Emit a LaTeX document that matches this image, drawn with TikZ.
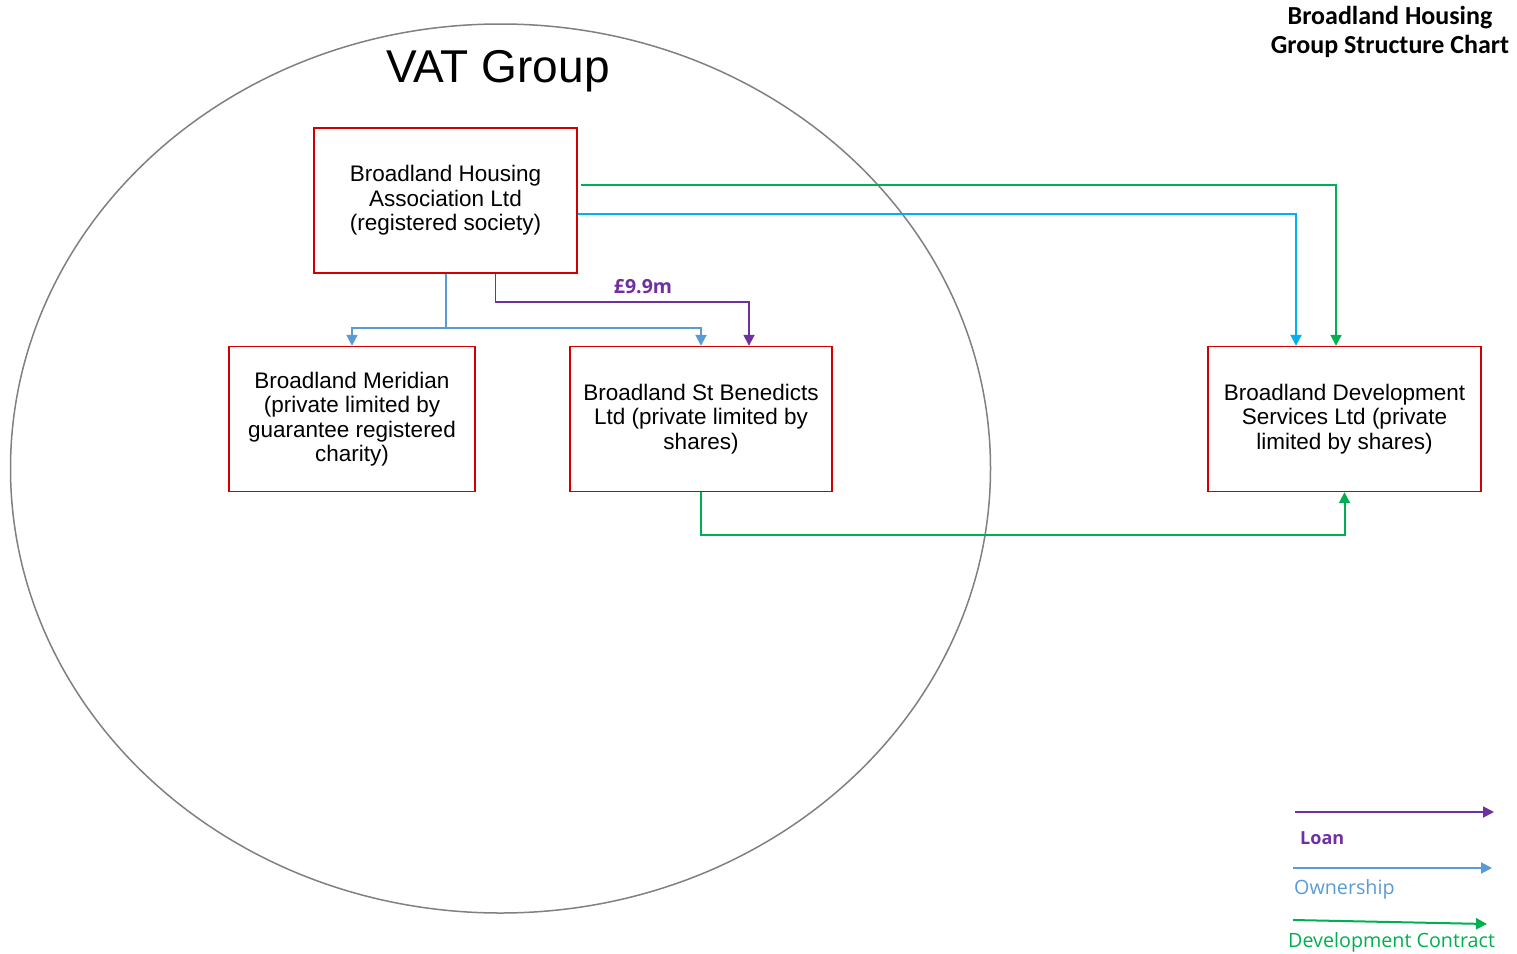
\documentclass[tikz,border=0pt]{standalone}
\usepackage{fontspec}
\setmainfont{Liberation Sans}
\newfontfamily\titlefont{Carlito}
\newfontfamily\keyfont{Open Sans}
\usetikzlibrary{arrows.meta}
\definecolor{boxred}{HTML}{D00000}
\definecolor{loanpurple}{HTML}{7030A0}
\definecolor{ownblue}{HTML}{5B9BD5}
\definecolor{devgreen}{HTML}{00B050}
\definecolor{devcyan}{HTML}{00B0F0}
\begin{document}
\begin{tikzpicture}[x=1pt,y=-1pt,
	entity/.style={draw=boxred, line width=1.4pt, minimum height=145pt, align=center,
		font=\fontsize{22.5}{24.5}\selectfont},
	tip/.style={-{Triangle[width=11pt,length=11pt]}},
	own/.style={tip, draw=ownblue, line width=2pt},
	loan/.style={tip, draw=loanpurple, line width=1.8pt},
	devc/.style={tip, draw=devgreen, line width=2pt},
	devcyan/.style={tip, draw=devcyan, line width=2pt},
	keytext/.style={anchor=west, inner sep=0pt, font=\keyfont\fontsize{19.7}{22}\selectfont}]
	\useasboundingbox (0,0) rectangle (1517,953);
	
	\draw [line width=1.5pt, color=gray] (500.5,468.5) ellipse [x radius=490pt, y radius=444.5pt];
	\node (vat) at (498,71) {\fontsize{46}{50}\selectfont VAT Group};
	\node [align=center, font=\titlefont\bfseries\fontsize{26}{28.5}\selectfont] (title) at (1390,32) {Broadland Housing\\Group Structure Chart};
	
	\node [entity, minimum width=263pt] (bha) at (445.5,200.5) {Broadland Housing\\Association Ltd\\(registered society)};
	\node [entity, minimum width=246pt] (mer) at (352,419) {Broadland Meridian\\(private limited by\\guarantee registered\\charity)};
	\node [entity, minimum width=262pt] (stb) at (701,419) {Broadland St Benedicts\\Ltd (private limited by\\shares)};
	\node [entity, minimum width=273pt] (bds) at (1344.5,419) {Broadland Development\\Services Ltd (private\\limited by shares)};
	
	\draw [own] (bha.south) -- ++(0,54) coordinate (split) -| (mer.north);
	\draw [own] (split) -| (stb.north);
	\draw [loan] ([xshift=50pt]bha.south) -- ++(0,28) -| ([xshift=48pt]stb.north);
	\node [text=loanpurple, font=\keyfont\bfseries\fontsize{19.5}{22}\selectfont] (amount) at (643,287) {£9.9m};
	\draw [devc] ([xshift=3pt,yshift=15.5pt]bha.east) -| ([xshift=-8.5pt]bds.north);
	\draw [devcyan] ([yshift=-13.5pt]bha.east) -| ([xshift=-48.5pt]bds.north);
	\draw [devc] (stb.south) -- ++(0,42.5) -| (bds.south);
	
	% key
	\coordinate (loanA) at (1295,812);
	\coordinate (loanB) at (1494,812);
	\coordinate (ownA) at (1293,868);
	\coordinate (ownB) at (1492,868);
	\coordinate (devA) at (1293,920);
	\coordinate (devB) at (1487,924);
	\draw [loan] (loanA) -- (loanB);
	\draw [own] (ownA) -- (ownB);
	\draw [devc] (devA) -- (devB);
	\node [keytext, text=loanpurple, font=\keyfont\bfseries\fontsize{18}{20}\selectfont] (loankey) at (1300,838) {Loan};
	\node [keytext, text=ownblue] (ownkey) at (1294,889) {Ownership};
	\node [keytext, text=devgreen] (devkey) at (1288,942) {Development Contract};
\end{tikzpicture}
\end{document}
